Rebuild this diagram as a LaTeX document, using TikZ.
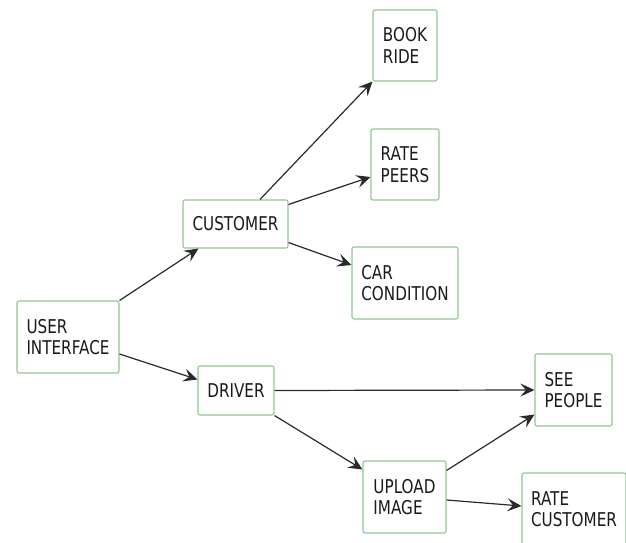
\documentclass[tikz,border=0pt]{standalone}
\usepackage{fontspec}
\setmainfont[FakeStretch=0.8]{DejaVu Sans}
\usetikzlibrary{arrows.meta,calc}
\definecolor{boxgreen}{HTML}{8FC98F}
\definecolor{inkgrey}{HTML}{2A2A2A}
\definecolor{textgrey}{HTML}{1A1A1A}
\tikzset{
  box/.style={draw=boxgreen, line width=1.1pt, rounded corners=2pt, fill=white,
    align=left, inner sep=0pt, text=textgrey,
    font=\fontsize{19}{21.5}\selectfont},
  link/.style={draw=inkgrey, line width=1.2pt,
    -{Stealth[length=14pt,width=13pt,inset=5.5pt]}}
}
\begin{document}
\begin{tikzpicture}[x=1pt,y=-1pt]
\useasboundingbox (0,0) rectangle (626,543);
\fill[white] (0,0) rectangle (626,543);

% boxes, placed by their centres in pixel units
\node[box, minimum width=64pt,  minimum height=71pt] (book)   at (405,45.5)  {BOOK\\RIDE};
\node[box, minimum width=68pt,  minimum height=71pt] (peers)  at (405,164.5) {RATE\\PEERS};
\node[box, minimum width=105pt, minimum height=48pt] (cust)   at (235.5,224) {CUSTOMER};
\node[box, minimum width=106pt, minimum height=72pt] (car)    at (405,283)   {CAR\\CONDITION};
\node[box, minimum width=102pt, minimum height=72pt] (ui)     at (68,337)    {USER\\INTERFACE};
\node[box, minimum width=76pt,  minimum height=49pt] (driver) at (236,390.5) {DRIVER};
\node[box, minimum width=77pt,  minimum height=72pt] (see)    at (573.5,390) {SEE\\PEOPLE};
\node[box, minimum width=83pt,  minimum height=72pt] (upload) at (404.5,497) {UPLOAD\\IMAGE};
\node[box, minimum width=104pt, minimum height=72pt] (ratec)  at (574,509)   {RATE\\CUSTOMER};

% connectors (shifts are in page direction: positive yshift moves up)
\draw[link] (ui.north east) -- ([xshift=16pt]cust.south west);
\draw[link] ([yshift=-17pt]ui.east) -- ([yshift=11pt]driver.west);
\draw[link] ([xshift=24.5pt]cust.north) -- (book.south west);
\draw[link] ([yshift=-5pt]cust.north east) -- ([yshift=-12.5pt]peers.west);
\draw[link] ([yshift=6pt]cust.south east) -- ([yshift=18pt]car.west);
\draw[link] (driver.east) -- (see.west);
\draw[link] (driver.south east) -- ([yshift=-9pt]upload.north west);
\draw[link] ([yshift=-10pt]upload.north east) -- ([yshift=12pt]see.south west);
\draw[link] ([yshift=-3pt]upload.east) -- ([yshift=3pt]ratec.west);
\end{tikzpicture}
\end{document}
